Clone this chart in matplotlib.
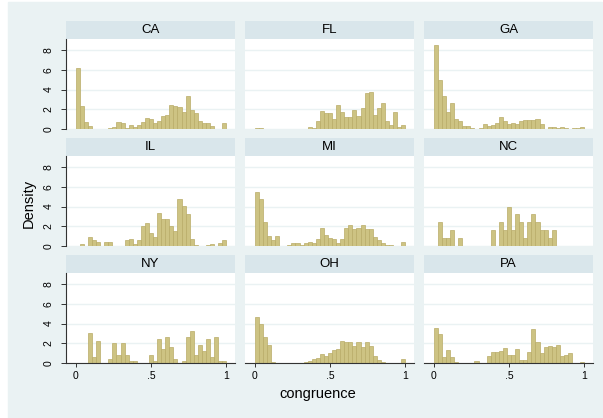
import matplotlib
matplotlib.use("Agg")
import matplotlib.pyplot as plt
from matplotlib.patches import Rectangle
import numpy as np

# density of congruence by state, 37 equal bins on [0, 1]
states = ["CA", "FL", "GA", "IL", "MI", "NC", "NY", "OH", "PA"]

ca = [6.2, 2.35, 0.7, 0.35, 0, 0, 0, 0.05, 0.1, 0.25, 0.7, 0.65, 0.15, 0.4, 0.25, 0.4,
      0.75, 1.1, 1.0, 0.65, 0.85, 1.3, 1.45, 2.4, 2.35, 2.2, 1.7, 3.35, 1.95, 1.6, 0.85,
      0.6, 0.65, 0.35, 0, 0.05, 0.6]
fl = [0.1, 0.1, 0, 0, 0, 0, 0, 0, 0, 0, 0, 0, 0, 0.2, 0.1, 0.85, 1.8, 1.6, 1.6, 1.0,
      2.4, 1.75, 1.2, 1.2, 1.95, 1.35, 2.15, 3.65, 3.75, 1.45, 2.15, 2.6, 0.85, 0.45,
      1.75, 0.2, 0.45]
ga = [8.5, 5.0, 3.35, 1.75, 2.65, 1.05, 0.8, 0.35, 0.3, 0.15, 0, 0.1, 0.5, 0.3, 0.4,
      0.65, 1.2, 0.85, 0.5, 0.65, 0.55, 0.85, 0.9, 0.9, 0.9, 1.0, 0.55, 0.05, 0.25, 0.25,
      0.1, 0.2, 0.15, 0.05, 0.15, 0.15, 0.25]
il = [0, 0.2, 0, 0.9, 0.6, 0.45, 0, 0.4, 0.4, 0, 0, 0, 0.6, 0.7, 0.25, 0.6, 2.05, 2.3,
      1.3, 0.9, 3.3, 2.7, 2.7, 2.05, 1.5, 4.8, 4.05, 3.2, 0.7, 0.15, 0, 0, 0.15, 0.25,
      0, 0.3, 0.6]
mi = [5.5, 4.8, 2.45, 1.05, 0.65, 1.05, 0, 0, 0.1, 0.3, 0.3, 0.15, 0.35, 0.45, 0.3,
      0.7, 1.85, 1.1, 0.85, 0.75, 0.35, 0.75, 1.85, 2.15, 1.7, 1.8, 2.15, 1.7, 1.7,
      0.95, 0.6, 0.3, 0.15, 0.1, 0, 0, 0.45]
nc = [0, 2.4, 0.8, 0.8, 1.6, 0, 0.8, 0, 0, 0, 0, 0, 0, 0, 1.6, 0, 2.4, 1.6, 4.0, 1.6,
      3.2, 2.4, 0.8, 2.4, 3.2, 2.4, 1.6, 1.6, 0.8, 1.6, 0, 0, 0, 0, 0, 0, 0]
ny = [0, 0, 0, 3.0, 0.6, 2.25, 0, 0, 0.4, 2.0, 0.8, 2.0, 0.8, 0.2, 0.2, 0, 0, 0, 0.8,
      0.2, 2.45, 1.4, 2.6, 1.6, 0.4, 0, 0.2, 2.6, 3.2, 0.8, 1.8, 1.2, 2.45, 0.6, 2.6,
      0.2, 0.2]
oh = [4.7, 4.0, 2.65, 1.85, 0.1, 0, 0.05, 0, 0, 0, 0.03, 0.05, 0.1, 0.2, 0.4, 0.5,
      0.95, 0.75, 1.0, 1.3, 1.45, 2.2, 2.15, 2.15, 1.75, 2.1, 1.6, 2.15, 1.7, 0.75, 0.3,
      0.1, 0.05, 0.05, 0.05, 0.05, 0.4]
pa = [3.55, 2.95, 0.65, 1.35, 0.6, 0.1, 0, 0.05, 0.05, 0, 0.25, 0.05, 0, 0.75, 1.15,
      1.15, 1.2, 1.5, 0.8, 0.8, 1.4, 0.35, 0.35, 1.15, 3.4, 2.1, 1.05, 1.6, 1.75, 1.65,
      1.8, 0.75, 0.8, 1.05, 0.05, 0, 0.15]

densities = [ca, fl, ga, il, mi, nc, ny, oh, pa]
n_bins = 37
y_ticks = [0, 2, 4, 6, 8]
x_ticks = [0, 0.5, 1]
x_tick_labels = ["0", ".5", "1"]

BG = "#eaf2f3"
STRIP = "#d9e6eb"
BAR = "#cdc383"
BAR_EDGE = "#b9ac68"

W, H = 603, 418
plt.rcParams["font.family"] = ["Liberation Sans", "DejaVu Sans"]

fig = plt.figure(figsize=(W / 100, H / 100), dpi=100)
fig.patch.set_facecolor("white")
fig.patches.append(Rectangle((8 / W, 0), (W - 9) / W, 416 / H,
                             transform=fig.transFigure, color=BG, zorder=-10))


def px_axes(x0, y0, w, h):
    return fig.add_axes([x0 / W, 1 - (y0 + h) / H, w / W, h / H])


col_x = [66, 245, 424]
row_y = [39, 156, 273]
panel_w, panel_h, strip_h = 169, 90, 18
edges = np.linspace(0, 1, n_bins + 1)

for i, (state, dens) in enumerate(zip(states, densities)):
    r, c = divmod(i, 3)
    x0, y0 = col_x[c], row_y[r]

    strip = px_axes(x0, y0 - strip_h, panel_w, strip_h)
    strip.set_facecolor(STRIP)
    strip.set_xticks([])
    strip.set_yticks([])
    for s in strip.spines.values():
        s.set_visible(False)
    strip.text(0.5, 0.48, state, ha="center", va="center", fontsize=9.5,
               transform=strip.transAxes)

    ax = px_axes(x0, y0, panel_w, panel_h)
    ax.set_facecolor("white")
    ax.bar(edges[:-1], dens, width=1 / n_bins, align="edge",
           color=BAR, edgecolor=BAR_EDGE, linewidth=0.5, zorder=2)
    ax.set_xlim(-0.065, 1.058)
    ax.set_ylim(0, 9.13)
    ax.set_yticks(y_ticks)
    ax.grid(axis="y", color=BG, lw=1.0, zorder=0)
    ax.set_axisbelow(True)
    for s in ax.spines.values():
        s.set_visible(False)

    if c == 0:
        ax.spines["left"].set_visible(True)
        ax.spines["left"].set_color("#333333")
        ax.spines["left"].set_linewidth(0.8)
        ax.set_yticklabels([str(t) for t in y_ticks], rotation=90, va="center",
                           fontsize=7.5)
        ax.tick_params(axis="y", length=3.6, width=0.7, color="#333333", pad=5.2)
    else:
        ax.tick_params(axis="y", length=0, labelleft=False)

    if r == 2:
        ax.spines["bottom"].set_visible(True)
        ax.spines["bottom"].set_color("#333333")
        ax.spines["bottom"].set_linewidth(0.8)
        ax.set_xticks(x_ticks)
        ax.set_xticklabels(x_tick_labels, fontsize=7.5)
        ax.tick_params(axis="x", length=2.9, width=0.7, color="#333333", pad=2.8)
    else:
        ax.set_xticks([])

fig.text(29 / W, 1 - 203 / H, "Density", rotation=90, ha="center", va="center",
         fontsize=10.5)
fig.text(318 / W, 1 - 394 / H, "congruence", ha="center", va="center",
         fontsize=10.5)

fig.savefig("out.png", dpi=100, facecolor=fig.get_facecolor())
